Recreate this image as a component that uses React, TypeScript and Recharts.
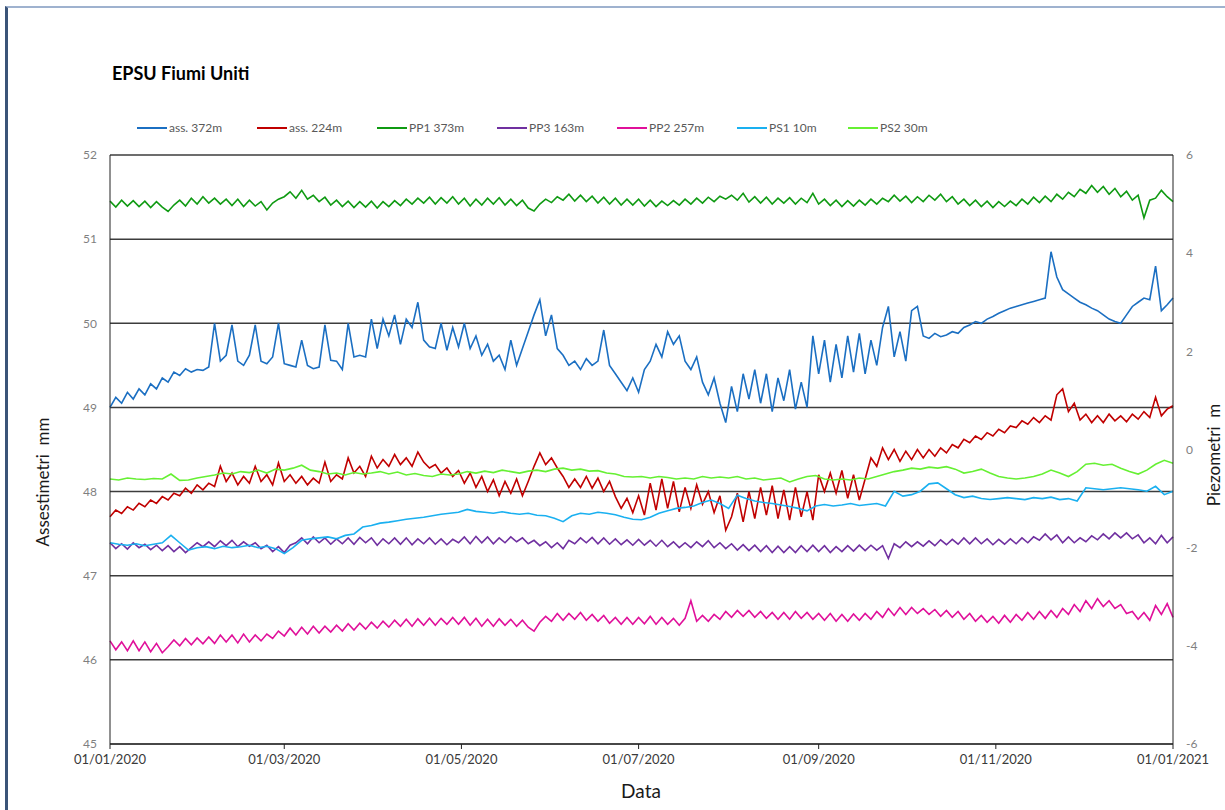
import { LineChart, Line, XAxis, YAxis, CartesianGrid } from "recharts";

// day 0 = 01/01/2020; noisy series read every 2 days, smooth ones every 3 days
const days2 = Array.from({ length: 184 }, (_, i) => i * 2);
const days3 = Array.from({ length: 123 }, (_, i) => i * 3);
const tickDays = [0, 60, 121, 182, 244, 305, 366];
const tickLabels = ["01/01/2020", "01/03/2020", "01/05/2020", "01/07/2020", "01/09/2020", "01/11/2020", "01/01/2021"];
const leftTicks = [45, 46, 47, 48, 49, 50, 51, 52];
const rightTicks = [-6, -4, -2, 0, 2, 4, 6];

// assestimetri (mm, left axis) - 2 day step
const ass372 = [
  49.0, 49.12, 49.05, 49.18, 49.1, 49.22, 49.15, 49.28, 49.22, 49.35,
  49.3, 49.42, 49.38, 49.46, 49.42, 49.45, 49.44, 49.48, 50.0, 49.55,
  49.62, 49.98, 49.55, 49.5, 49.62, 49.98, 49.55, 49.52, 49.6, 50.0,
  49.52, 49.5, 49.48, 49.8, 49.5, 49.46, 49.48, 49.98, 49.56, 49.55,
  49.45, 50.0, 49.6, 49.62, 49.6, 50.05, 49.7, 50.05, 49.85, 50.1,
  49.75, 50.05, 49.95, 50.25, 49.8, 49.72, 49.7, 50.0, 49.68, 49.95,
  49.72, 50.0, 49.7, 49.85, 49.62, 49.75, 49.55, 49.62, 49.45, 49.8,
  49.5, 49.7, 49.9, 50.1, 50.28, 49.85, 50.1, 49.7, 49.62, 49.5,
  49.55, 49.45, 49.58, 49.5, 49.55, 49.92, 49.5, 49.4, 49.3, 49.2,
  49.35, 49.18, 49.45, 49.55, 49.75, 49.6, 49.9, 49.75, 49.85, 49.55,
  49.45, 49.6, 49.3, 49.15, 49.35, 49.05, 48.82, 49.25, 48.95, 49.4,
  49.1, 49.45, 49.05, 49.4, 48.95, 49.35, 49.08, 49.45, 48.98, 49.3,
  49.0, 49.85, 49.4, 49.8, 49.3, 49.75, 49.35, 49.85, 49.42, 49.88,
  49.4, 49.8, 49.5, 49.95, 50.2, 49.6, 49.9, 49.55, 50.15, 50.2,
  49.85, 49.82, 49.88, 49.84, 49.86, 49.9, 49.88, 49.95, 49.98, 50.02,
  50.0, 50.05, 50.08, 50.12, 50.15, 50.18, 50.2, 50.22, 50.24, 50.26,
  50.28, 50.3, 50.85, 50.55, 50.4, 50.35, 50.3, 50.25, 50.22, 50.18,
  50.15, 50.1, 50.05, 50.02, 50.0, 50.1, 50.2, 50.25, 50.3, 50.28,
  50.68, 50.15, 50.22, 50.3,
];
const ass224 = [
  47.7, 47.78, 47.74, 47.82, 47.78, 47.86, 47.82, 47.9, 47.86, 47.94,
  47.9, 47.98, 47.95, 48.04, 47.98, 48.08, 48.02, 48.1, 48.06, 48.3,
  48.12, 48.22, 48.08, 48.18, 48.1, 48.3, 48.12, 48.2, 48.08, 48.34,
  48.12, 48.2, 48.1, 48.18, 48.08, 48.16, 48.1, 48.35, 48.12, 48.2,
  48.15, 48.4, 48.22, 48.3, 48.18, 48.42, 48.28, 48.38, 48.3, 48.44,
  48.32, 48.4, 48.3, 48.47, 48.35, 48.28, 48.32, 48.22, 48.28, 48.18,
  48.25, 48.1, 48.22, 48.05, 48.18, 48.0, 48.14, 47.95, 48.12, 47.98,
  48.15, 47.95, 48.12, 48.3, 48.46, 48.32, 48.4, 48.28, 48.18, 48.05,
  48.15, 48.05, 48.18, 48.04, 48.16, 48.0, 48.12, 47.94, 47.8, 47.92,
  47.75, 47.95, 47.72, 48.1, 47.78, 48.15, 47.8, 48.12, 47.76, 48.05,
  47.8, 48.08, 47.85, 48.0, 47.75, 47.95, 47.54, 47.7, 47.98, 47.64,
  48.0, 47.68, 48.05, 47.72, 48.07, 47.68, 48.02, 47.66, 48.05, 47.7,
  48.0, 47.66, 48.2, 48.0, 48.22, 47.98, 48.25, 47.92, 48.2, 47.9,
  48.15, 48.4, 48.3, 48.52, 48.38, 48.5, 48.36, 48.48, 48.38, 48.5,
  48.4, 48.5, 48.42, 48.52, 48.46, 48.56, 48.52, 48.62, 48.58, 48.66,
  48.62, 48.7, 48.66, 48.74, 48.7, 48.78, 48.76, 48.84, 48.8, 48.88,
  48.82, 48.9, 48.85, 49.15, 49.22, 48.95, 49.05, 48.85, 48.92, 48.82,
  48.9, 48.82, 48.92, 48.84, 48.9, 48.83, 48.92, 48.86, 48.95, 48.88,
  49.12, 48.9, 48.98, 49.02,
];

// piezometri (m, right axis) - 2 day step
const pp1 = [
  5.06, 4.94, 5.08, 4.96, 5.07, 4.95, 5.06, 4.93, 5.05, 4.94,
  4.85, 4.98, 5.08, 4.96, 5.12, 5.0, 5.15, 5.02, 5.12, 5.0,
  5.1, 4.97, 5.1, 4.95, 5.08, 4.96, 5.05, 4.88, 5.02, 5.1,
  5.15, 5.25, 5.12, 5.28, 5.1, 5.18, 5.05, 5.14, 4.98, 5.08,
  4.95, 5.06, 4.93, 5.05, 4.94, 5.06, 4.92, 5.05, 4.95, 5.07,
  4.97, 5.1, 5.0, 5.12, 5.02, 5.14, 5.0, 5.13, 5.02, 5.15,
  5.0, 5.12, 4.96, 5.1, 4.98, 5.12, 5.0, 5.13, 4.98, 5.1,
  4.97, 5.08, 4.92, 4.86, 5.0, 5.1, 5.03, 5.15, 5.08, 5.2,
  5.06, 5.18, 5.05, 5.16, 5.02, 5.14, 5.0, 5.12, 4.98, 5.1,
  4.98, 5.1, 4.96, 5.08, 4.95, 5.06, 4.97, 5.07, 4.98, 5.1,
  5.0, 5.12, 5.02, 5.14, 5.05, 5.16, 5.1, 5.18, 5.08, 5.22,
  5.04, 5.15, 5.02, 5.14, 5.0, 5.12, 5.02, 5.13, 5.0, 5.12,
  5.03, 5.22, 5.0, 5.1, 4.97, 5.08, 4.95, 5.07, 4.96, 5.08,
  4.98, 5.1, 5.0, 5.12, 5.05, 5.18, 5.06, 5.16, 5.03, 5.15,
  5.05, 5.18, 5.08, 5.2, 5.05, 5.15, 5.0, 5.1, 4.97, 5.08,
  4.95, 5.06, 4.93, 5.05, 4.95, 5.06, 4.97, 5.1, 5.0, 5.14,
  5.03, 5.16, 5.05, 5.2, 5.1, 5.24, 5.15, 5.3, 5.22, 5.38,
  5.24, 5.36, 5.2, 5.32, 5.15, 5.26, 5.08, 5.18, 4.72, 5.08,
  5.12, 5.28, 5.15, 5.05,
];
const pp3 = [
  -1.9, -2.02, -1.92, -2.03, -1.9, -2.0, -1.93, -2.04, -1.95, -2.06,
  -1.96, -2.08, -1.98, -2.1, -2.0, -1.9, -1.98, -1.88, -1.98, -1.86,
  -1.96, -1.85, -1.98, -1.88, -1.97, -1.9, -2.02, -1.95, -2.08, -1.98,
  -2.1, -1.95, -1.9, -1.8, -1.92, -1.78, -1.9, -1.8, -1.93, -1.82,
  -1.92, -1.8, -1.93, -1.79, -1.9, -1.8, -1.95, -1.82, -1.92, -1.8,
  -1.93, -1.8, -1.94, -1.82, -1.92, -1.8, -1.93, -1.82, -1.94, -1.83,
  -1.9, -1.78, -1.92, -1.77, -1.9, -1.78, -1.92, -1.8, -1.9, -1.78,
  -1.88, -1.8, -1.92, -1.85, -1.96, -1.88, -2.0, -1.9, -2.02, -1.85,
  -1.92, -1.8, -1.9, -1.79, -1.92, -1.8, -1.93, -1.82, -1.94, -1.84,
  -1.95, -1.83, -1.95, -1.85, -1.97, -1.85, -1.98, -1.88, -2.0, -1.9,
  -2.0, -1.88, -1.98, -1.86, -2.0, -1.9, -2.02, -1.92, -2.05, -1.94,
  -2.06, -1.95, -2.08, -1.96, -2.1, -1.97, -2.1, -1.98, -2.1, -1.96,
  -2.08, -1.95, -2.08, -1.96, -2.1, -1.98, -2.08, -1.96, -2.07, -1.95,
  -2.06, -1.95, -2.05, -1.96, -2.22, -1.92, -2.0, -1.88, -1.98, -1.88,
  -1.97, -1.86, -1.96, -1.84, -1.94, -1.83, -1.93, -1.8, -1.92, -1.8,
  -1.92, -1.82, -1.94, -1.83, -1.93, -1.82, -1.92, -1.8, -1.9, -1.78,
  -1.85, -1.72, -1.84, -1.74, -1.9, -1.78, -1.9, -1.8, -1.88, -1.76,
  -1.84, -1.72, -1.82, -1.7, -1.8, -1.7, -1.82, -1.74, -1.9, -1.8,
  -1.92, -1.75, -1.9, -1.78,
];
const pp2 = [
  -3.9, -4.08, -3.92, -4.1, -3.9, -4.1, -3.92, -4.12, -3.95, -4.14,
  -4.02, -3.88, -4.0, -3.85, -3.98, -3.84, -3.96, -3.82, -3.95, -3.78,
  -3.92, -3.78, -3.94, -3.76, -3.92, -3.78, -3.9, -3.76, -3.85, -3.7,
  -3.8, -3.64, -3.78, -3.62, -3.76, -3.6, -3.74, -3.6, -3.72, -3.58,
  -3.7, -3.55, -3.68, -3.54, -3.66, -3.52, -3.64, -3.5, -3.62, -3.48,
  -3.6, -3.46, -3.6, -3.45, -3.58, -3.44, -3.58, -3.44, -3.56, -3.42,
  -3.56, -3.42, -3.58, -3.44, -3.6, -3.46, -3.6, -3.45, -3.58, -3.46,
  -3.6, -3.48, -3.62, -3.7, -3.52, -3.4, -3.5, -3.34, -3.48, -3.34,
  -3.46, -3.32, -3.48, -3.36, -3.5, -3.38, -3.54, -3.42, -3.56, -3.42,
  -3.56, -3.42, -3.55, -3.4, -3.56, -3.42, -3.56, -3.44, -3.58, -3.44,
  -3.08, -3.5, -3.38, -3.5, -3.36, -3.46, -3.3, -3.42, -3.28, -3.4,
  -3.28, -3.42, -3.3, -3.44, -3.32, -3.46, -3.32, -3.46, -3.3, -3.44,
  -3.32, -3.46, -3.34, -3.48, -3.34, -3.5, -3.36, -3.5, -3.35, -3.48,
  -3.34, -3.46, -3.3, -3.42, -3.24, -3.38, -3.22, -3.36, -3.22, -3.34,
  -3.24, -3.36, -3.26, -3.4, -3.28, -3.42, -3.3, -3.46, -3.34, -3.5,
  -3.38, -3.52, -3.4, -3.54, -3.38, -3.52, -3.36, -3.48, -3.32, -3.46,
  -3.3, -3.44, -3.28, -3.42, -3.24, -3.36, -3.16, -3.3, -3.08, -3.24,
  -3.04, -3.2, -3.08, -3.24, -3.16, -3.34, -3.3, -3.46, -3.32, -3.48,
  -3.18, -3.36, -3.14, -3.42,
];

// piezometri (m, right axis) - 3 day step
const ps1 = [
  -1.9, -1.93, -1.95, -1.92, -1.96, -1.93, -1.9, -1.75, -1.9, -2.05,
  -2.0, -1.98, -2.02, -1.97, -2.0, -1.98, -1.95, -2.0, -1.97, -2.02,
  -2.12, -2.0, -1.85, -1.82, -1.8, -1.78, -1.82, -1.75, -1.72, -1.58,
  -1.55, -1.5, -1.48, -1.45, -1.42, -1.4, -1.38, -1.35, -1.32, -1.3,
  -1.28, -1.22, -1.26, -1.28, -1.3, -1.27, -1.3, -1.32, -1.3, -1.34,
  -1.35, -1.4, -1.47, -1.35, -1.3, -1.32, -1.28, -1.3, -1.33, -1.38,
  -1.42, -1.43, -1.38, -1.3, -1.25, -1.2, -1.18, -1.15, -1.08, -1.03,
  -1.1, -1.2, -0.93, -1.0, -1.05, -1.08, -1.1, -1.13, -1.16, -1.2,
  -1.25, -1.15, -1.12, -1.15, -1.13, -1.1, -1.14, -1.12, -1.1, -1.15,
  -0.85, -0.95, -0.92, -0.85, -0.7, -0.68, -0.8, -0.92, -0.98, -0.95,
  -1.0, -1.02, -1.0, -0.98, -1.0, -1.02, -0.98, -1.0, -0.97, -1.02,
  -1.0, -1.05, -0.78, -0.8, -0.82, -0.8, -0.78, -0.8, -0.82, -0.85,
  -0.75, -0.92, -0.85,
];
const ps2 = [
  -0.6, -0.62, -0.58, -0.6, -0.61, -0.59, -0.6, -0.5, -0.63, -0.62,
  -0.58, -0.55, -0.52, -0.48, -0.5, -0.45, -0.47, -0.42, -0.48, -0.4,
  -0.42, -0.38, -0.32, -0.42, -0.45, -0.5, -0.48, -0.52, -0.47, -0.5,
  -0.48, -0.45, -0.5, -0.46, -0.52, -0.49, -0.53, -0.55, -0.5, -0.52,
  -0.5, -0.45, -0.48, -0.44, -0.47, -0.42, -0.45, -0.48, -0.44, -0.42,
  -0.45, -0.4, -0.38, -0.42, -0.4, -0.44, -0.43, -0.48, -0.5, -0.55,
  -0.56, -0.55, -0.58, -0.55, -0.57, -0.6, -0.58, -0.6, -0.55, -0.58,
  -0.56, -0.58, -0.55, -0.6, -0.58, -0.62, -0.6, -0.58, -0.66, -0.6,
  -0.55, -0.53, -0.6, -0.62, -0.6, -0.62, -0.58, -0.6, -0.55, -0.5,
  -0.45, -0.42, -0.38, -0.4, -0.36, -0.38, -0.35, -0.4, -0.48, -0.45,
  -0.4, -0.48, -0.55, -0.58, -0.6, -0.58, -0.55, -0.5, -0.42, -0.48,
  -0.55, -0.45, -0.3, -0.28, -0.32, -0.3, -0.38, -0.45, -0.5, -0.42,
  -0.3, -0.22, -0.28,
];

const series = [
  { key: "ass372", name: "ass. 372m", color: "#1b6fc2", axis: "left", days: days2, values: ass372 },
  { key: "ass224", name: "ass. 224m", color: "#c00000", axis: "left", days: days2, values: ass224 },
  { key: "pp1", name: "PP1 373m", color: "#0f9a12", axis: "right", days: days2, values: pp1 },
  { key: "pp3", name: "PP3 163m", color: "#7030a0", axis: "right", days: days2, values: pp3 },
  { key: "pp2", name: "PP2 257m", color: "#e0109a", axis: "right", days: days2, values: pp2 },
  { key: "ps1", name: "PS1 10m", color: "#1ab0f0", axis: "right", days: days3, values: ps1 },
  { key: "ps2", name: "PS2 30m", color: "#66f033", axis: "right", days: days3, values: ps2 },
];

const legendWidths = [120, 120, 120, 120, 120, 111, 100];

export default function App() {
  return (
    <div
      style={{
        position: "absolute",
        left: 0,
        top: 0,
        width: 1225,
        height: 810,
        overflow: "hidden",
        background: "#fff",
        fontFamily: "Lato, sans-serif",
      }}
    >
      {/* frame of the original sheet */}
      <div
        style={{
          position: "absolute",
          left: 5,
          top: 6,
          right: -10,
          bottom: -10,
          borderLeft: "3px solid #3b5478",
          borderTop: "2px solid #9fb2cf",
        }}
      />

      {/* title */}
      <div style={{ position: "absolute", left: 112, top: 62, fontSize: 18, fontWeight: 700, color: "#000" }}>
        EPSU Fiumi Uniti
      </div>

      {/* legend */}
      <div style={{ position: "absolute", left: 137, top: 120, display: "flex", alignItems: "center", fontSize: 12, color: "#595959" }}>
        {series.map((s, i) => (
          <div key={s.key} style={{ width: legendWidths[i], display: "flex", alignItems: "center" }}>
            <span style={{ width: 30, height: 2, background: s.color, marginRight: 2 }} />
            <span>{s.name}</span>
          </div>
        ))}
      </div>

      <LineChart width={1225} height={810} margin={{ top: 155, left: 50, right: 12, bottom: 26 }}>
        <CartesianGrid yAxisId="left" vertical={false} stroke="#3c3c3c" strokeWidth={1.5} />
        <XAxis
          dataKey="day"
          type="number"
          domain={[0, 366]}
          ticks={tickDays}
          tickFormatter={(v: number) => tickLabels[tickDays.indexOf(v)]}
          interval={0}
          height={40}
          stroke="#222"
          tickSize={5}
          tickMargin={6}
          tick={{ fill: "#3a3a3a", fontSize: 13 }}
        />
        <YAxis
          yAxisId="left"
          domain={[45, 52]}
          ticks={leftTicks}
          allowDataOverflow
          width={60}
          stroke="#222"
          tickLine={false}
          tickMargin={7}
          tick={{ fill: "#7f7f7f", fontSize: 12 }}
        />
        <YAxis
          yAxisId="right"
          orientation="right"
          domain={[-6, 6]}
          ticks={rightTicks}
          allowDataOverflow
          width={40}
          stroke="#222"
          tickLine={false}
          tickMargin={7}
          tick={{ fill: "#7f7f7f", fontSize: 12 }}
        />
        {series.map((s) => (
          <Line
            key={s.key}
            yAxisId={s.axis}
            data={s.days.map((day, i) => ({ day, value: s.values[i] }))}
            dataKey="value"
            name={s.name}
            type="linear"
            stroke={s.color}
            strokeWidth={1.6}
            dot={false}
            isAnimationActive={false}
          />
        ))}
      </LineChart>

      {/* axis titles */}
      <div
        style={{
          position: "absolute",
          left: 42,
          top: 482,
          transform: "translate(-50%, -50%) rotate(-90deg)",
          fontSize: 17,
          color: "#1a1a1a",
          whiteSpace: "pre",
        }}
      >
        Assestimetri  mm
      </div>
      <div
        style={{
          position: "absolute",
          left: 1213,
          top: 455,
          transform: "translate(-50%, -50%) rotate(-90deg)",
          fontSize: 17,
          color: "#1a1a1a",
          whiteSpace: "pre",
        }}
      >
        Piezometri  m
      </div>
      <div style={{ position: "absolute", left: 641, top: 790, transform: "translate(-50%, -50%)", fontSize: 19, color: "#1a1a1a" }}>
        Data
      </div>
    </div>
  );
}
